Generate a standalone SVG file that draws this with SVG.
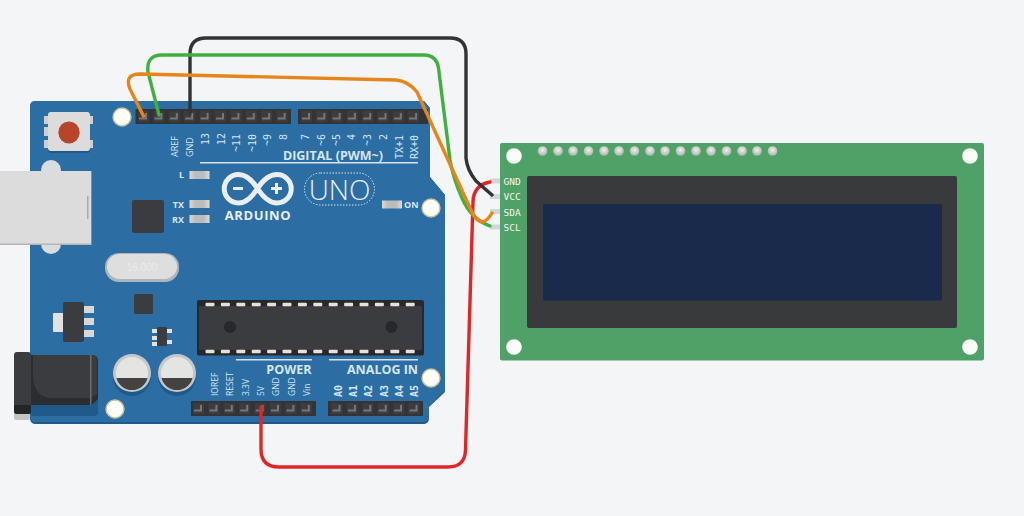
<svg xmlns="http://www.w3.org/2000/svg" xmlns:xlink="http://www.w3.org/1999/xlink" width="1024" height="516" viewBox="0 0 1024 516">
<style>
.hdr{fill:#333438}
.lbl{font-family:"Open Sans","Liberation Sans",sans-serif;fill:#d6e6f2;font-size:9px}
.mono{font-family:"DejaVu Sans Mono","Liberation Mono",monospace;fill:#d6e6f2;font-size:10px}
.head{font-family:"Open Sans","Liberation Sans",sans-serif;font-weight:700;fill:#d6e6f2;font-size:12.5px}
.lcdl{font-family:"DejaVu Sans Mono","Liberation Mono",monospace;fill:#f1f5ef;font-size:9.5px}
.wire{fill:none;stroke-width:3.4;stroke-linecap:round;stroke-linejoin:round}
.hole{fill:#fdfdf8;stroke:#c9c39a;stroke-width:1.4}
.cpin{fill:#e6e2d8}
</style>
<defs>
<g id="pin"><rect x="-5.500" y="-5.500" width="11" height="11" fill="#3d3c3e"/><path d="M3.500-3.500V3H-4.500V1H1.500V-3.500Z" fill="#77767a"/></g>
<rect id="cp" x="-4.500" y="-1.800" width="9" height="3.600" rx="1" class="cpin"/>
<radialGradient id="ball" cx="50%" cy="40%" r="60%"><stop offset="0" stop-color="#f2f2f2"/><stop offset="1" stop-color="#a8b3ab"/></radialGradient>
<linearGradient id="ledg" x1="0" x2="1" y1="0" y2="0"><stop offset="0" stop-color="#d8d8d8"/><stop offset=".3" stop-color="#bcbcbc"/><stop offset=".7" stop-color="#bcbcbc"/><stop offset="1" stop-color="#dcdcdc"/></linearGradient>
<circle id="dot" r="4.800" fill="url(#ball)"/>
<rect id="ledr" width="20" height="8" fill="url(#ledg)"/>
</defs>
<rect width="1024" height="516" fill="#f4f5f7"/>

<g id="arduino">
<path d="M35 101H424L430 108V177L445 195V392L429 407V418Q429 424 423 424H36Q30 424 30 418V107Q30 101 35 101Z" fill="#1f5a8b"/>
<path d="M35 101H424L430 108V177L445 195V391L429 406V417Q429 422 423 422H36Q30 422 30 417V107Q30 101 35 101Z" fill="#2c6ea3"/>
<g id="headers">
<rect class="hdr" x="135.500" y="109" width="155.500" height="15"/><rect class="hdr" x="298" y="109" width="130" height="15"/>
<rect class="hdr" x="191" y="401" width="125" height="15"/><rect class="hdr" x="328" y="401" width="95" height="15"/>
<g transform="translate(0,116.500)"><use href="#pin" x="143.500"/><use href="#pin" x="158.900"/><use href="#pin" x="174.300"/><use href="#pin" x="189.700"/><use href="#pin" x="205.100"/><use href="#pin" x="220.500"/><use href="#pin" x="235.900"/><use href="#pin" x="251.300"/><use href="#pin" x="266.700"/><use href="#pin" x="282.100"/><use href="#pin" x="306.500"/><use href="#pin" x="321.800"/><use href="#pin" x="337.100"/><use href="#pin" x="352.400"/><use href="#pin" x="367.700"/><use href="#pin" x="383"/><use href="#pin" x="398.300"/><use href="#pin" x="413.600"/></g>
<g transform="translate(0,408.500)"><use href="#pin" x="198.500"/><use href="#pin" x="213.900"/><use href="#pin" x="229.300"/><use href="#pin" x="244.700"/><use href="#pin" x="260.100"/><use href="#pin" x="275.500"/><use href="#pin" x="290.900"/><use href="#pin" x="306.300"/><use href="#pin" x="337"/><use href="#pin" x="352.400"/><use href="#pin" x="367.800"/><use href="#pin" x="383.200"/><use href="#pin" x="398.600"/><use href="#pin" x="414"/></g>
</g>
<circle class="hole" cx="122" cy="117" r="9"/><circle class="hole" cx="431" cy="208" r="9"/><circle class="hole" cx="431" cy="378" r="9"/><circle class="hole" cx="115" cy="409" r="9"/>
<g id="reset">
<rect x="44" y="116" width="4" height="8" fill="#cfcfcf"/><rect x="44" y="127" width="4" height="9" fill="#cfcfcf"/><rect x="44" y="140" width="4" height="8" fill="#cfcfcf"/><rect x="89" y="116" width="4" height="8" fill="#cfcfcf"/><rect x="89" y="140" width="4" height="8" fill="#cfcfcf"/>
<rect x="48" y="113" width="42" height="40" rx="3" fill="#1f5a8b"/><rect x="48" y="112" width="42" height="39" rx="3" fill="#dcdcdc"/>
<circle cx="69" cy="133" r="10.500" fill="#a84a36"/><circle cx="69" cy="132" r="10.500" fill="#b8452a"/>
</g>
<g id="usb">
<circle cx="51" cy="170" r="10" fill="#d8dde0"/><circle cx="51" cy="244" r="10" fill="#d8dde0"/>
<rect x="0" y="171" width="91.500" height="74" fill="#b5b5b5"/><rect x="0" y="171" width="91" height="72.500" fill="#dcdcdc"/><rect x="87" y="196" width="1.500" height="23" fill="#aaa"/>
</g>
<rect x="132" y="200" width="32" height="33" rx="2" fill="#3b3c40"/>
<g id="leds">
<use href="#ledr" x="189.500" y="171"/><use href="#ledr" x="189.500" y="200"/><use href="#ledr" x="189.500" y="215"/><use href="#ledr" x="382" y="200.500"/>
<text class="lbl" x="184" y="178" text-anchor="end" style="font-weight:700">L</text>
<text class="lbl" x="184" y="208" text-anchor="end" style="font-weight:700">TX</text>
<text class="lbl" x="184" y="223" text-anchor="end" style="font-weight:700">RX</text>
<text class="lbl" x="404" y="208" style="font-weight:700">ON</text>
</g>
<g id="crystal"><rect x="105" y="253" width="74" height="29" rx="14" fill="#aeb6bd"/><rect x="107" y="254" width="70" height="25" rx="12.500" fill="#dedede"/><text x="142" y="271" text-anchor="middle" font-family="Liberation Sans, sans-serif" font-size="10" fill="#ebebeb">16.000</text></g>
<rect x="134" y="294" width="19" height="20" rx="1.500" fill="#3b3c40"/>
<g id="regulator"><rect x="53" y="313" width="12" height="19" rx="1" fill="#e2e2e2"/><rect x="83" y="306" width="11" height="7" fill="#d8d8d8"/><rect x="83" y="318" width="11" height="7" fill="#d8d8d8"/><rect x="83" y="330" width="11" height="7" fill="#d8d8d8"/><rect x="63" y="302" width="21" height="40" rx="2" fill="#3b3c40"/></g>
<g id="smd"><rect x="152" y="329" width="5" height="4" fill="#e2e2e2"/><rect x="152" y="336" width="5" height="4" fill="#e2e2e2"/><rect x="152" y="342" width="5" height="4" fill="#e2e2e2"/><rect x="167" y="329" width="5" height="4" fill="#e2e2e2"/><rect x="167" y="340" width="5" height="4" fill="#e2e2e2"/><rect x="157" y="327" width="10" height="19" rx="1" fill="#3b3c40"/></g>
<g id="jack">
<rect x="30" y="360" width="68" height="56" rx="4" fill="#1f5a8b"/>
<rect x="14" y="405" width="16" height="15" rx="2" fill="#c4c4c4"/>
<path d="M31 355H92Q98 355 98 361V399L92 405H31Z" fill="#2c2d30"/>
<path d="M31 355H92Q97 355 97 361V394L90 398H48Q33 394 33 375V355Z" fill="#3b3c40"/>
<rect x="90" y="355" width="1.500" height="50" fill="#6b6c6e"/>
<rect x="14" y="352" width="17" height="62" rx="3" fill="#3b3c40"/><path d="M14 405H31V411Q31 414 28 414H17Q14 414 14 411Z" fill="#252527"/>
</g>
<g id="caps">
<circle cx="132" cy="377" r="19" fill="#1f5a8b"/><circle cx="177" cy="377" r="19" fill="#1f5a8b"/>
<circle cx="132" cy="373" r="19" fill="#c5c8ca"/><circle cx="177" cy="373" r="19" fill="#c5c8ca"/>
<circle cx="132" cy="373" r="16" fill="#e4e4e2"/><circle cx="177" cy="373" r="16" fill="#e4e4e2"/>
<path d="M116.500 378H147.500A16 16 0 0 1 116.500 378Z" fill="#454241"/><path d="M161.500 378H192.500A16 16 0 0 1 161.500 378Z" fill="#454241"/>
</g>
<g id="mcu">
<rect x="197" y="300" width="227" height="55.500" rx="2" fill="#27282b"/><rect x="199" y="306" width="223" height="44" fill="#3b3c40"/>
<circle cx="230" cy="327" r="6" fill="#27282b"/><circle cx="391.500" cy="327" r="6" fill="#27282b"/>
<g transform="translate(0,304.500)"><use href="#cp" x="210"/><use href="#cp" x="225.400"/><use href="#cp" x="240.800"/><use href="#cp" x="256.200"/><use href="#cp" x="271.600"/><use href="#cp" x="287"/><use href="#cp" x="302.400"/><use href="#cp" x="317.800"/><use href="#cp" x="333.200"/><use href="#cp" x="348.600"/><use href="#cp" x="364"/><use href="#cp" x="379.400"/><use href="#cp" x="394.800"/><use href="#cp" x="410.200"/></g>
<g transform="translate(0,351.500)"><use href="#cp" x="210"/><use href="#cp" x="225.400"/><use href="#cp" x="240.800"/><use href="#cp" x="256.200"/><use href="#cp" x="271.600"/><use href="#cp" x="287"/><use href="#cp" x="302.400"/><use href="#cp" x="317.800"/><use href="#cp" x="333.200"/><use href="#cp" x="348.600"/><use href="#cp" x="364"/><use href="#cp" x="379.400"/><use href="#cp" x="394.800"/><use href="#cp" x="410.200"/></g>
</g>
<g id="logo">
<path d="M257.500 188.500C252 180 246 174.500 238.500 174.500A14 14 0 0 0 238.500 203C246 203 252 197 257.500 188.500C263 180 269 174.500 277 174.500A14 14 0 0 1 277 203C269 203 263 197 257.500 188.500Z" fill="none" stroke="#e9eef0" stroke-width="5"/>
<rect x="233" y="187" width="10" height="3" fill="#e9eef0"/><rect x="271" y="187" width="11" height="3" fill="#e9eef0"/><rect x="275" y="183" width="3" height="11" fill="#e9eef0"/>
<text x="258" y="219.500" text-anchor="middle" font-family="Open Sans, Liberation Sans, sans-serif" font-weight="700" font-size="13" letter-spacing=".6" fill="#e9eef0">ARDUINO</text>
<rect x="304.500" y="173" width="70" height="32" rx="16" fill="none" stroke="#d6e6f2" stroke-width="1" stroke-dasharray="1.500 1.500"/>
<text x="339.500" y="200" text-anchor="middle" font-family="Open Sans, Liberation Sans, sans-serif" font-weight="300" font-size="28" fill="#e9eef0">UNO</text>
</g>
<g id="silk">
<rect x="200" y="162" width="218" height="1.500" fill="#d6e6f2"/><rect x="236" y="359" width="76" height="1.500" fill="#d6e6f2"/><rect x="329" y="359" width="89" height="1.500" fill="#d6e6f2"/>
<text class="head" x="383" y="160" text-anchor="end">DIGITAL (PWM~)</text>
<text class="head" x="311.500" y="374" text-anchor="end">POWER</text>
<text class="head" x="418" y="374" text-anchor="end">ANALOG IN</text>
<text class="lbl" transform="translate(178,157) rotate(-90)">AREF</text>
<text class="lbl" transform="translate(193,157) rotate(-90)">GND</text>
<text class="mono" transform="translate(209,145) rotate(-90)">13</text>
<text class="mono" transform="translate(225,145) rotate(-90)">12</text>
<text class="mono" transform="translate(240,152) rotate(-90)">~11</text>
<text class="mono" transform="translate(256,152) rotate(-90)">~10</text>
<text class="mono" transform="translate(271,146) rotate(-90)">~9</text>
<text class="mono" transform="translate(287,140) rotate(-90)">8</text>
<text class="mono" transform="translate(309,140) rotate(-90)">7</text>
<text class="mono" transform="translate(325,146) rotate(-90)">~6</text>
<text class="mono" transform="translate(340,146) rotate(-90)">~5</text>
<text class="mono" transform="translate(355,140) rotate(-90)">4</text>
<text class="mono" transform="translate(371,146) rotate(-90)">~3</text>
<text class="mono" transform="translate(387,140) rotate(-90)">2</text>
<text class="mono" transform="translate(403,159) rotate(-90)">TX+1</text>
<text class="mono" transform="translate(418,159) rotate(-90)">RX+0</text>
<text class="mono" transform="translate(342,397) rotate(-90)" style="font-weight:700">A0</text>
<text class="mono" transform="translate(357,397) rotate(-90)" style="font-weight:700">A1</text>
<text class="mono" transform="translate(372,397) rotate(-90)" style="font-weight:700">A2</text>
<text class="mono" transform="translate(388,397) rotate(-90)" style="font-weight:700">A3</text>
<text class="mono" transform="translate(403,397) rotate(-90)" style="font-weight:700">A4</text>
<text class="mono" transform="translate(418,397) rotate(-90)" style="font-weight:700">A5</text>
<text class="lbl" style="font-size:8.500px" transform="translate(218,396) rotate(-90)">IOREF</text>
<text class="lbl" style="font-size:8.500px" transform="translate(233,396) rotate(-90)">RESET</text>
<text class="lbl" style="font-size:8.500px" transform="translate(249,396) rotate(-90)">3.3V</text>
<text class="lbl" style="font-size:8.500px" transform="translate(264,396) rotate(-90)">5V</text>
<text class="lbl" style="font-size:8.500px" transform="translate(279,396) rotate(-90)">GND</text>
<text class="lbl" style="font-size:8.500px" transform="translate(295,396) rotate(-90)">GND</text>
<text class="lbl" style="font-size:8.500px" transform="translate(310,396) rotate(-90)">Vin</text>
</g>
</g>

<g id="lcd">
<rect x="490" y="178.500" width="11" height="5" fill="#d4d6d6"/><rect x="490" y="194" width="11" height="5" fill="#d4d6d6"/><rect x="490" y="209" width="11" height="5" fill="#d4d6d6"/><rect x="490" y="224.500" width="11" height="5" fill="#d4d6d6"/>
<rect x="500" y="143" width="484" height="217.500" rx="2" fill="#50a168"/>
<circle cx="514" cy="156" r="7.800" fill="#fbfbf7"/><circle cx="970" cy="156" r="7.800" fill="#fbfbf7"/><circle cx="514" cy="347" r="7.800" fill="#fbfbf7"/><circle cx="970" cy="347" r="7.800" fill="#fbfbf7"/>
<g transform="translate(0,151)"><use href="#dot" x="542.500"/><use href="#dot" x="558"/><use href="#dot" x="573"/><use href="#dot" x="588.500"/><use href="#dot" x="604"/><use href="#dot" x="619"/><use href="#dot" x="634.500"/><use href="#dot" x="650"/><use href="#dot" x="665"/><use href="#dot" x="680.500"/><use href="#dot" x="696"/><use href="#dot" x="711"/><use href="#dot" x="726.500"/><use href="#dot" x="742"/><use href="#dot" x="757"/><use href="#dot" x="772.500"/></g>
<rect x="527" y="176" width="430" height="152" rx="2" fill="#393a3b"/>
<rect x="543" y="204" width="399" height="96.500" fill="#1a2a4b"/>
<text class="lcdl" x="503.500" y="185">GND</text><text class="lcdl" x="503.500" y="200">VCC</text><text class="lcdl" x="503.500" y="216">SDA</text><text class="lcdl" x="503.500" y="231">SCL</text>
</g>

<g id="connectors">
<path class="wire" stroke="#e02626" d="M261 407V449Q261 467 279 467H448Q465 467 465.500 450L473 202Q473.500 185 490 182"/>
<path class="wire" stroke="#333336" d="M190 113V54Q190 38 206 38H450Q466 38 466 54V158Q467 170 476 181L492 195"/>
<path class="wire" stroke="#40b040" d="M159 115L148 72Q146 55 162 55H424Q438 55 439 72L450 160Q453 178 462 198Q471 219 490 226"/>
<path class="wire" stroke="#e5851a" d="M143.500 116L130 89Q124 74 140 74L396 80Q408 81 417 92L470 208Q476 222 483 222Q488 220 492 213"/>
</g>
</svg>
